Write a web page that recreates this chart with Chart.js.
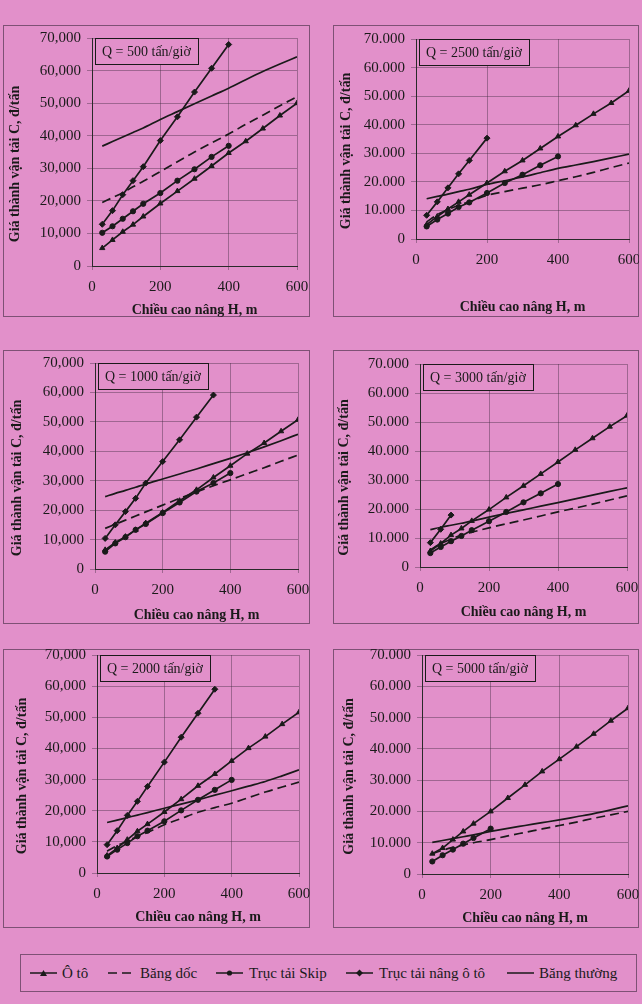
<!DOCTYPE html>
<html>
<head>
<meta charset="utf-8">
<script src="https://cdn.jsdelivr.net/npm/chart.js@4.4.1/dist/chart.umd.min.js"></script>
<style>
  body { margin: 0; background: #e290ca; }
  #page { position: relative; width: 642px; height: 1004px; background: #e290ca; overflow: hidden; font-family: "Liberation Serif", serif; color: #1a1a1a; }
  #page canvas { position: absolute; }
  .frame { position: absolute; box-sizing: border-box; border: 1px solid rgba(60, 40, 60, 0.6); pointer-events: none; }
  #legend { position: absolute; left: 20px; top: 954px; width: 617px; height: 38px; box-sizing: border-box; border: 1px solid rgba(60, 40, 60, 0.6); }
  #legend .item { position: absolute; top: 0; height: 36px; line-height: 36px; font-size: 15px; white-space: nowrap; }
  #legend svg { position: absolute; top: 13px; }
</style>
</head>
<body>
<div id="page">
  <div id="legend"></div>
</div>
<script>
/* global Chart */
// chieu cao nang H (m)
var H = [30, 60, 90, 120, 150, 200, 250, 300, 350, 400, 450, 500, 550, 600]
var xTicks = [0, 200, 400, 600]
var yTicksComma = ['0', '10,000', '20,000', '30,000', '40,000', '50,000', '60,000', '70,000']
var yTicksDot = ['0', '10.000', '20.000', '30.000', '40.000', '50.000', '60.000', '70.000']
var seriesNames = ['Ô tô', 'Băng dốc', 'Trục tải Skip', 'Trục tải nâng ô tô', 'Băng thường']
var qLabels = ['Q = 500 tấn/giờ', 'Q = 2500 tấn/giờ', 'Q = 1000 tấn/giờ', 'Q = 3000 tấn/giờ', 'Q = 2000 tấn/giờ', 'Q = 5000 tấn/giờ']
var yTitle = 'Giá thành vận tải C, đ/tấn'
var xTitle = 'Chiều cao nâng H, m'

// Q = 500
var oto500 = [5500, 8000, 10500, 12700, 15200, 19200, 23000, 26800, 30700, 34700, 38300, 42200, 46200, 50000]
var bangDoc500 = [19500, 21000, 22500, 24300, 26000, 29000, 32000, 35000, 37800, 40500, 43500, 46300, 49200, 52000]
var skip500 = [10200, 12200, 14500, 16800, 19100, 22400, 26200, 29700, 33500, 36900]
var nang500 = [12800, 17000, 21900, 26200, 30500, 38500, 45800, 53400, 60700, 68000]
var bangThuong500 = [36800, 38200, 39600, 41000, 42400, 45000, 47400, 49800, 52200, 54600, 57200, 59700, 62000, 64200]

// Q = 2500
var oto2500 = [5000, 7900, 10500, 13000, 15500, 19600, 23700, 27500, 31700, 35900, 39800, 43800, 47600, 51900]
var bangDoc2500 = [6000, 8500, 10300, 11800, 13000, 15300, 16600, 17800, 19000, 20400, 21800, 23300, 25000, 26600]
var skip2500 = [4400, 6800, 8900, 11200, 12800, 16100, 19600, 22500, 25800, 28900]
var nang2500 = [8300, 13000, 17900, 22800, 27500, 35300]
var bangThuong2500 = [14100, 14900, 15700, 16600, 17400, 19100, 20400, 21700, 23200, 24700, 25900, 27100, 28400, 29700]

// Q = 1000
var oto1000 = [6500, 9000, 11000, 13300, 15600, 19200, 23200, 26900, 31100, 35100, 39200, 42800, 46800, 50700]
var bangDoc1000 = [13800, 15200, 16600, 18000, 19400, 21700, 24000, 26200, 28300, 30300, 32400, 34400, 36600, 38700]
var skip1000 = [5900, 8700, 10800, 13300, 15300, 19000, 22600, 26300, 29200, 32600]
var nang1000 = [10400, 15000, 19500, 24000, 29200, 36500, 43900, 51600, 59100]
var bangThuong1000 = [24600, 25700, 26700, 27800, 28900, 30600, 32300, 34000, 35800, 37600, 39500, 41500, 43600, 45800]

// Q = 3000
var oto3000 = [5500, 8100, 11000, 13300, 15900, 19800, 24000, 28000, 32100, 36200, 40400, 44400, 48400, 52200]
var bangDoc3000 = [6000, 8000, 9600, 11000, 12000, 13500, 14900, 16200, 17600, 19000, 20300, 21700, 23100, 24500]
var skip3000 = [4800, 6900, 8900, 10700, 12700, 15800, 19000, 22300, 25400, 28600]
var nang3000 = [8400, 13000, 17900]
var bangThuong3000 = [12900, 13700, 14400, 15100, 15800, 17200, 18500, 19700, 21000, 22200, 23500, 24800, 26100, 27300]

// Q = 2000
var oto2000 = [5600, 8000, 10700, 13400, 15700, 19600, 23700, 28000, 31800, 36000, 40100, 43800, 47800, 51600]
var bangDoc2000 = [7000, 8800, 10300, 11700, 13000, 15500, 17500, 19500, 21000, 22400, 24200, 26000, 27600, 29200]
var skip2000 = [5300, 7500, 9600, 11800, 13600, 16600, 20100, 23500, 26700, 29900]
var nang2000 = [9100, 13600, 18500, 23000, 27800, 35600, 43600, 51300, 59000]
var bangThuong2000 = [16200, 17000, 17800, 18600, 19400, 20800, 22100, 23500, 25000, 26400, 27900, 29400, 31200, 33100]

// Q = 5000
var oto5000 = [6500, 8300, 11000, 13600, 16100, 20000, 24300, 28500, 32800, 36700, 40700, 44800, 49000, 53000]
var bangDoc5000 = [6500, 7600, 8500, 9300, 10000, 11000, 12200, 13300, 14400, 15500, 16600, 17800, 18900, 20000]
var skip5000 = [4000, 6000, 7800, 9700, 11500, 14500]
var nang5000 = []
var bangThuong5000 = [10100, 10700, 11300, 11900, 12500, 13600, 14600, 15500, 16400, 17300, 18300, 19300, 20500, 21800]

var ink = '#1a1a1a'
var bg = '#e290ca'
var gridColor = 'rgba(60, 40, 60, 0.4)'
var serif = '"Liberation Serif", "Times New Roman", serif'

// frame box [left, top, w, h], plot [left, right, top, bottom] inside the frame
var panels = [
  { q: qLabels[0], ticks: yTicksComma, series: [oto500, bangDoc500, skip500, nang500, bangThuong500], box: [3, 25, 307, 292], plot: [89, 294, 13, 241], yTitleX: 12, xTitlePad: 0 },
  { q: qLabels[1], ticks: yTicksDot, series: [oto2500, bangDoc2500, skip2500, nang2500, bangThuong2500], box: [333, 25, 306, 292], plot: [83, 296, 14, 214], yTitleX: 13, xTitlePad: 3 },
  { q: qLabels[2], ticks: yTicksComma, series: [oto1000, bangDoc1000, skip1000, nang1000, bangThuong1000], box: [3, 350, 307, 274], plot: [92, 295, 13, 219], yTitleX: 14, xTitlePad: 2 },
  { q: qLabels[3], ticks: yTicksDot, series: [oto3000, bangDoc3000, skip3000, nang3000, bangThuong3000], box: [333, 350, 306, 274], plot: [87, 294, 14, 217], yTitleX: 11, xTitlePad: 5 },
  { q: qLabels[4], ticks: yTicksComma, series: [oto2000, bangDoc2000, skip2000, nang2000, bangThuong2000], box: [3, 649, 307, 279], plot: [94, 296, 6, 224], yTitleX: 19, xTitlePad: 4 },
  { q: qLabels[5], ticks: yTicksDot, series: [oto5000, bangDoc5000, skip5000, nang5000, bangThuong5000], box: [333, 649, 306, 279], plot: [89, 295, 6, 225], yTitleX: 16, xTitlePad: 3 }
]

function pts(values) {
  return values.map(function (v, i) {
    return { x: H[i], y: v }
  })
}

var qBoxPlugin = {
  id: 'qBox',
  beforeDatasetsDraw(chart, args, opts) {
    var ctx = chart.ctx
    var a = chart.chartArea
    ctx.save()
    ctx.font = '14px ' + serif
    var w = Math.round(ctx.measureText(opts.text).width + 14)
    var h = 26
    var x = Math.round(a.left + 3)
    var y = Math.round(a.top)
    ctx.fillStyle = bg
    ctx.fillRect(x, y, w, h)
    ctx.strokeStyle = ink
    ctx.lineWidth = 1
    ctx.strokeRect(x + 0.5, y + 0.5, w, h)
    ctx.fillStyle = ink
    ctx.textBaseline = 'middle'
    ctx.fillText(opts.text, x + 7, y + h / 2 + 1)
    ctx.restore()
  }
}

var yTitlePlugin = {
  id: 'yTitle',
  afterDraw(chart, args, opts) {
    var ctx = chart.ctx
    var a = chart.chartArea
    ctx.save()
    ctx.translate(opts.x, (a.top + a.bottom) / 2 + 12)
    ctx.rotate(-Math.PI / 2)
    ctx.font = 'bold 14px ' + serif
    ctx.textAlign = 'center'
    ctx.textBaseline = 'middle'
    ctx.fillStyle = ink
    ctx.fillText(opts.text, 0, 0)
    ctx.restore()
  }
}

function makeDatasets(s) {
  var list = [
    { label: seriesNames[0], data: pts(s[0]), pointStyle: 'triangle', pointRadius: 3 },
    { label: seriesNames[1], data: pts(s[1]), borderDash: [9, 5], pointRadius: 0, cubicInterpolationMode: 'monotone' },
    { label: seriesNames[2], data: pts(s[2]), pointStyle: 'circle', pointRadius: 2.6 },
    { label: seriesNames[3], data: pts(s[3]), pointStyle: 'rectRot', pointRadius: 3 },
    { label: seriesNames[4], data: pts(s[4]), pointRadius: 0, cubicInterpolationMode: 'monotone' }
  ]
  return list.map(function (ds) {
    return Object.assign({
      borderColor: ink,
      backgroundColor: ink,
      pointBackgroundColor: ink,
      pointBorderColor: ink,
      pointBorderWidth: 1,
      borderWidth: 1.7,
      fill: false
    }, ds)
  })
}

var page = document.getElementById('page')

panels.forEach(function (p) {
  var canvas = document.createElement('canvas')
  canvas.width = p.box[2]
  canvas.height = p.box[3]
  canvas.style.left = p.box[0] + 'px'
  canvas.style.top = p.box[1] + 'px'
  page.appendChild(canvas)

  var frame = document.createElement('div')
  frame.className = 'frame'
  frame.style.left = p.box[0] + 'px'
  frame.style.top = p.box[1] + 'px'
  frame.style.width = p.box[2] + 'px'
  frame.style.height = p.box[3] + 'px'
  page.appendChild(frame)

  new Chart(canvas, {
    type: 'line',
    data: { datasets: makeDatasets(p.series) },
    plugins: [qBoxPlugin, yTitlePlugin],
    options: {
      responsive: false,
      animation: false,
      devicePixelRatio: 1,
      layout: { padding: { top: p.plot[2], right: p.box[2] - p.plot[1], left: 0, bottom: 0 } },
      plugins: {
        legend: { display: false },
        tooltip: { enabled: false },
        qBox: { text: p.q },
        yTitle: { text: yTitle, x: p.yTitleX }
      },
      scales: {
        x: {
          type: 'linear',
          min: xTicks[0],
          max: xTicks[xTicks.length - 1],
          afterBuildTicks: function (s) {
            s.ticks = xTicks.map(function (v) { return { value: v } })
          },
          ticks: {
            padding: 8,
            color: ink,
            maxRotation: 0,
            font: { family: serif, size: 15 },
            callback: function (v) { return String(v) }
          },
          grid: { color: gridColor, tickLength: 4 },
          border: { color: '#2a2a2a', width: 1 },
          title: {
            display: true,
            text: xTitle,
            color: ink,
            font: { family: serif, size: 14, weight: 'bold', lineHeight: 1 },
            padding: { top: 0, bottom: p.xTitlePad }
          },
          afterFit: function (s) {
            s.height = p.box[3] - p.plot[3]
            s.paddingLeft = 0
            s.paddingRight = 0
          }
        },
        y: {
          type: 'linear',
          min: 0,
          max: 70000,
          ticks: {
            stepSize: 10000,
            padding: 6,
            color: ink,
            font: { family: serif, size: 15 },
            callback: function (v, i) { return p.ticks[i] }
          },
          grid: { color: gridColor, tickLength: 5 },
          border: { color: '#2a2a2a', width: 1 },
          afterFit: function (s) {
            s.width = p.plot[0]
            s.paddingTop = 0
            s.paddingBottom = 0
          }
        }
      }
    }
  })
})

// legend: sample line + marker, then label
var legendItems = [
  { marker: 'triangle', dash: false, left: 9, textLeft: 41 },
  { marker: null, dash: true, left: 87, textLeft: 119 },
  { marker: 'circle', dash: false, left: 195, textLeft: 228 },
  { marker: 'diamond', dash: false, left: 325, textLeft: 358 },
  { marker: null, dash: false, left: 486, textLeft: 518 }
]

var legend = document.getElementById('legend')
legendItems.forEach(function (it, i) {
  var w = 27
  var mark = ''
  if (it.marker === 'triangle') mark = '<polygon points="13.5,2 17,8 10,8" fill="' + ink + '"/>'
  if (it.marker === 'circle') mark = '<circle cx="13.5" cy="5" r="2.6" fill="' + ink + '"/>'
  if (it.marker === 'diamond') mark = '<polygon points="13.5,1.5 17,5 13.5,8.5 10,5" fill="' + ink + '"/>'
  var dash = it.dash ? ' stroke-dasharray="9,5"' : ''
  var svg = '<svg width="' + w + '" height="10" style="left:' + it.left + 'px">' +
    '<line x1="0" y1="5" x2="' + w + '" y2="5" stroke="' + ink + '" stroke-width="1.5"' + dash + '/>' + mark + '</svg>'
  legend.insertAdjacentHTML('beforeend', svg)
  var span = document.createElement('span')
  span.className = 'item'
  span.style.left = it.textLeft + 'px'
  span.textContent = seriesNames[i]
  legend.appendChild(span)
})
</script>
</body>
</html>
